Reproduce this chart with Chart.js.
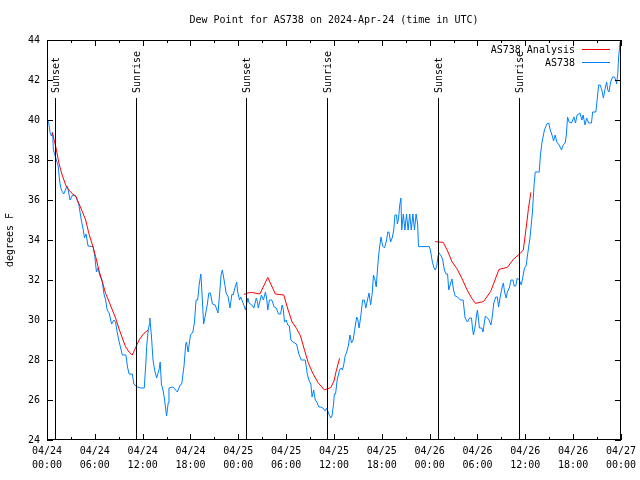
<!DOCTYPE html>
<html>
<head>
<meta charset="utf-8">
<script src="https://cdn.jsdelivr.net/npm/chart.js@4/dist/chart.umd.min.js"></script>
<style>
  body { margin: 0; background: #fff; }
</style>
</head>
<body>
<canvas id="myChart" width="640" height="480"></canvas>
<script>
// datos (horas desde 04/24 00:00 UTC)
const obsHours = [0.0,0.2,0.4,0.55,0.7,0.8,1.1,1.4,1.6,1.8,2.1,2.5,2.6,2.9,3.2,3.6,4.0,4.3,4.55,4.7,4.9,5.15,5.8,6.0,6.2,6.4,6.65,6.9,7.15,7.35,7.55,7.8,8.1,8.4,8.6,8.8,9.0,9.45,9.9,10.1,10.3,10.7,10.9,11.25,11.75,12.2,12.4,12.5,12.7,12.85,12.9,13.1,13.3,13.5,13.75,14.05,14.2,14.35,14.6,14.75,15.0,15.2,15.3,15.8,16.35,16.7,16.9,17.2,17.4,17.5,17.7,18.0,18.3,18.5,18.7,18.9,19.1,19.3,19.45,19.65,19.8,20.1,20.3,20.5,20.75,21.1,21.45,21.65,21.85,22.0,22.3,22.5,22.7,22.95,23.2,23.35,23.6,23.8,23.9,24.15,24.3,24.6,24.9,25.2,25.35,25.7,25.95,26.25,26.4,26.5,26.9,27.15,27.4,27.55,27.7,27.9,28.2,28.5,28.75,29.05,29.3,29.5,29.65,29.8,30.0,30.2,30.4,30.6,30.85,31.3,31.6,31.9,32.4,32.65,32.85,33.1,33.25,33.45,33.65,33.85,34.1,34.3,34.6,34.9,35.1,35.35,35.6,35.75,35.95,36.05,36.2,36.4,36.7,36.9,37.05,37.2,37.4,37.6,37.8,38.0,38.2,38.4,38.65,38.85,39.0,39.15,39.35,39.6,39.8,40.0,40.2,40.4,40.6,40.8,40.95,41.15,41.3,41.5,41.7,41.9,42.1,42.35,42.6,42.75,42.9,43.1,43.3,43.5,43.65,43.85,43.95,44.1,44.25,44.4,44.5,44.7,44.9,45.1,45.3,45.5,45.7,45.9,46.1,46.3,46.5,46.6,47.95,48.1,48.3,48.5,48.7,48.9,49.05,49.2,49.45,49.65,49.85,50.05,50.25,50.4,50.6,50.8,51.0,51.2,51.5,51.85,52.2,52.45,52.75,53.0,53.25,53.4,53.5,53.7,53.9,54.0,54.15,54.25,54.55,54.7,54.85,55.0,55.25,55.45,55.7,55.9,56.05,56.3,56.5,56.65,56.85,57.1,57.25,57.4,57.6,57.75,58.0,58.2,58.45,58.6,58.8,59.0,59.25,59.5,59.9,60.1,60.3,60.6,60.9,61.1,61.25,61.75,61.9,62.1,62.4,62.7,62.95,63.1,63.35,63.55,63.75,63.95,64.25,64.55,64.75,65.0,65.15,65.3,65.5,65.8,66.1,66.3,66.5,66.85,67.1,67.25,67.5,67.7,67.95,68.3,68.45,68.85,68.95,69.2,69.4,69.6,69.8,70.05,70.2,70.35,70.5,70.7,70.95,71.2,71.35,71.45,71.6,71.7,71.9];
const obsValues = [40.0,39.9,39.35,39.2,39.4,38.5,38.1,37.7,36.9,36.5,36.3,36.7,36.6,36.0,36.25,36.2,35.75,35.0,34.5,34.1,34.3,33.7,33.67,33.17,32.4,32.6,32.2,32.0,31.3,31.0,30.5,30.35,29.8,30.0,29.9,29.4,29.0,28.25,28.25,27.65,27.3,27.3,26.8,26.67,26.6,26.6,27.85,28.67,29.5,29.8,30.1,29.2,28.0,27.5,27.1,27.5,27.9,26.8,26.4,26.0,25.2,25.85,26.6,26.65,26.4,26.75,26.8,27.75,28.8,28.9,28.4,29.25,29.4,29.9,31.0,31.0,31.8,32.3,31.3,29.8,30.1,30.75,31.35,31.35,30.8,30.75,30.35,31.3,32.3,32.5,31.8,31.3,31.2,30.6,31.3,31.25,31.65,31.9,31.45,31.0,31.15,30.85,30.5,31.1,30.85,30.75,30.6,31.1,30.9,30.6,31.25,31.0,31.4,31.1,30.5,31.0,31.0,30.65,30.6,30.3,30.3,30.75,30.5,29.9,30.0,29.75,29.7,29.0,28.9,28.8,28.3,28.0,28.0,27.3,27.0,26.8,26.15,26.5,26.0,25.9,25.65,25.65,25.6,25.45,25.6,25.3,25.1,25.2,25.8,26.3,26.3,27.0,27.5,27.6,27.5,27.7,28.2,28.4,28.7,29.25,28.85,29.0,29.65,30.15,30.0,29.6,30.15,31.0,31.0,30.6,31.0,31.35,30.75,31.35,32.25,32.0,31.65,32.75,33.6,34.15,33.7,33.6,34.0,34.4,34.4,33.9,34.1,34.5,35.25,35.25,34.8,35.1,35.75,36.1,34.5,35.3,34.5,35.3,34.5,35.3,34.5,35.3,34.5,35.3,34.8,33.67,33.67,33.5,33.0,32.65,32.5,32.7,33.2,33.35,33.2,33.0,32.5,32.3,32.3,31.5,31.8,32.05,31.5,31.2,31.15,31.0,31.0,30.1,29.9,30.1,30.1,29.5,29.25,29.65,30.3,30.5,29.95,29.6,29.6,29.4,29.85,30.2,30.1,30.0,29.75,30.3,30.85,31.15,31.15,30.65,31.15,31.65,31.85,31.4,31.1,31.4,31.6,32.0,32.0,31.7,31.7,32.1,32.0,31.75,32.6,32.7,33.3,34.15,35.4,36.75,37.4,37.4,38.25,38.9,39.5,39.8,39.85,39.55,39.25,38.95,39.25,38.9,38.75,38.5,38.75,38.85,39.25,40.15,39.9,39.85,40.15,39.85,40.25,40.35,40.0,40.25,39.75,40.1,39.85,39.85,40.4,40.4,40.75,41.75,41.75,41.5,41.1,41.65,41.9,41.5,41.4,41.9,42.15,42.15,42.0,41.8,42.3,43.1,43.9];

// analisis (null = hueco)
const anaHours = [0.67,1.1,1.5,1.9,2.35,2.75,3.2,3.6,4.0,4.45,4.85,5.25,5.7,6.1,6.5,6.95,7.35,7.8,8.2,8.6,9.0,9.45,9.85,10.3,10.7,11.1,11.55,12.15,12.7,18,24.7,25.4,25.8,26.7,27.7,28.65,29.7,30.25,30.75,31.3,31.8,32.3,32.8,33.35,34.0,34.8,35.1,35.6,36.0,36.25,36.7,42,48.7,49.7,50.2,50.8,51.4,52.05,52.7,53.3,53.75,54.75,55.65,56.7,57.75,58.5,59.35,59.75,60.1,60.4,60.7];
const anaValues = [39.37,38.67,37.83,37.25,36.75,36.5,36.3,36.2,35.83,35.4,35.0,34.33,33.75,33.17,32.5,31.9,31.33,30.9,30.5,30.1,29.6,29.1,28.67,28.4,28.25,28.6,29.0,29.33,29.5,null,31.28,31.37,31.37,31.3,32.13,31.3,31.25,30.5,29.9,29.58,29.2,28.5,27.83,27.33,26.87,26.5,26.55,26.62,26.95,27.4,28.08,null,33.92,33.88,33.5,32.92,32.58,32.08,31.5,31.08,30.83,30.92,31.42,32.53,32.63,33.03,33.33,33.5,34.58,35.58,36.38];

// eventos sol
const eventHours = [1.03, 11.2, 25.0, 35.15, 49.08, 59.25];
const eventNames = ['Sunset', 'Sunrise', 'Sunset', 'Sunrise', 'Sunset', 'Sunrise'];

const yTicks = [24, 26, 28, 30, 32, 34, 36, 38, 40, 42, 44];
const titleText = 'Dew Point for AS738 on 2024-Apr-24 (time in UTC)';
const yTitle = 'degrees F';
const MONO = '"DejaVu Sans Mono", monospace';

function xLabel(v){
  const day = 24 + Math.floor(v / 24);
  const hr = v % 24;
  return ['04/' + day, String(hr).padStart(2, '0') + ':00'];
}

// plugin: marco, ticks hacia adentro, eventos, leyenda, titulos
const extras = {
  id: 'extras',
  afterDatasetsDraw(chart){
    const ctx = chart.ctx;
    const a = chart.chartArea;
    const xs = chart.scales.x, ys = chart.scales.y;
    ctx.save();
    ctx.strokeStyle = '#000';
    ctx.lineWidth = 1;

    // lineas de eventos
    ctx.fillStyle = '#000';
    ctx.font = '10px ' + MONO;
    eventHours.forEach((h, i) => {
      const px = Math.round(xs.getPixelForValue(h)) + 0.5;
      ctx.beginPath();
      ctx.moveTo(px, 98);
      ctx.lineTo(px, a.bottom);
      ctx.stroke();
      ctx.save();
      ctx.translate(px + 1, 93);
      ctx.rotate(-Math.PI / 2);
      ctx.textAlign = 'left';
      ctx.textBaseline = 'middle';
      ctx.fillText(eventNames[i], 0, 0);
      ctx.restore();
    });

    // marco
    ctx.strokeRect(Math.round(a.left) + 0.5, Math.round(a.top) + 0.5,
                   Math.round(a.right - a.left) - 1, Math.round(a.bottom - a.top) - 1);

    // ticks x (3h menores, 6h mayores)
    ctx.beginPath();
    for (let h = 0; h <= 72; h += 3){
      const px = Math.round(xs.getPixelForValue(h)) + 0.5;
      const len = (h % 6 === 0) ? 6 : 3;
      ctx.moveTo(px, a.bottom); ctx.lineTo(px, a.bottom - len);
      ctx.moveTo(px, a.top); ctx.lineTo(px, a.top + len);
    }
    // ticks y
    yTicks.forEach(v => {
      const py = Math.round(ys.getPixelForValue(v)) + 0.5;
      ctx.moveTo(a.left, py); ctx.lineTo(a.left + 6, py);
      ctx.moveTo(a.right, py); ctx.lineTo(a.right - 6, py);
    });
    ctx.stroke();

    // leyenda
    const ds = chart.data.datasets;
    ctx.textAlign = 'right';
    ctx.textBaseline = 'middle';
    ds.forEach((d, i) => {
      const y = 50 + i * 13;
      ctx.fillStyle = '#000';
      ctx.fillText(d.label, 575, y);
      ctx.strokeStyle = d.borderColor;
      ctx.beginPath();
      ctx.moveTo(582, y - 0.5);
      ctx.lineTo(610, y - 0.5);
      ctx.stroke();
    });

    // titulo
    ctx.fillStyle = '#000';
    ctx.textAlign = 'center';
    ctx.fillText(titleText, (a.left + a.right) / 2, 20);

    // titulo eje y
    ctx.save();
    ctx.translate(10, (a.top + a.bottom) / 2);
    ctx.rotate(-Math.PI / 2);
    ctx.textAlign = 'center';
    ctx.textBaseline = 'middle';
    ctx.fillText(yTitle, 0, 0);
    ctx.restore();

    ctx.restore();
  }
};

const data = {
  datasets: [{
    label: 'AS738 Analysis',
    data: anaHours.map((h, i) => ({x: h, y: anaValues[i]})),
    borderColor: 'rgb(255, 0, 0)',
    borderWidth: 1,
    pointRadius: 0,
    spanGaps: false
  }, {
    label: 'AS738',
    data: obsHours.map((h, i) => ({x: h, y: obsValues[i]})),
    borderColor: 'rgb(0, 128, 255)',
    borderWidth: 1,
    pointRadius: 0
  }]
};

const config = {
  type: 'line',
  data,
  options: {
    responsive: false,
    animation: false,
    layout: { padding: { top: 40, right: 19, left: 0, bottom: 0 } },
    plugins: {
      legend: { display: false },
      title: { display: false },
      tooltip: { enabled: false }
    },
    scales: {
      x: {
        type: 'linear',
        min: 0,
        max: 72,
        afterBuildTicks(s){ s.ticks = []; for (let h = 0; h <= 72; h += 6) s.ticks.push({value: h}); },
        ticks: {
          autoSkip: false,
          maxRotation: 0,
          padding: 4,
          color: '#000',
          font: { family: MONO, size: 10, lineHeight: 1.45 },
          callback: v => xLabel(v)
        },
        grid: { display: false, drawTicks: false },
        border: { display: false },
        afterFit(s){ s.height = 40; }
      },
      y: {
        min: 24,
        max: 44,
        afterBuildTicks(s){ s.ticks = yTicks.map(v => ({value: v})); },
        ticks: {
          padding: 7,
          color: '#000',
          font: { family: MONO, size: 10 }
        },
        grid: { display: false, drawTicks: false },
        border: { display: false },
        afterFit(s){ s.width = 47; }
      }
    }
  },
  plugins: [extras]
};

const myChart = new Chart(document.getElementById('myChart'), config);
</script>
</body>
</html>
